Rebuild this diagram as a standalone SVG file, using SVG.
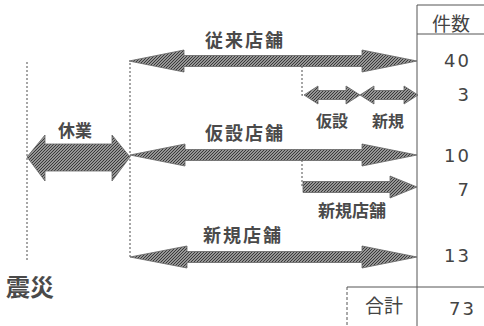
<svg xmlns="http://www.w3.org/2000/svg" width="484" height="326" viewBox="0 0 484 326">
<defs>
<pattern id="hatch" patternUnits="userSpaceOnUse" width="3" height="3">
<rect width="3" height="3" fill="#bdbdbd"/>
<path d="M-1,1 L1,-1 M0,3 L3,0 M2,4 L4,2" stroke="#333" stroke-width="1.1"/>
</pattern>
</defs>
<style>
.arr{fill:url(#hatch);stroke:#666;stroke-width:0.8;stroke-linejoin:miter}
.dot{fill:none;stroke:#777;stroke-width:1.3;stroke-dasharray:2 2}
.ln{fill:none;stroke:#555;stroke-width:1}
.lbl{font-family:"Noto Sans CJK JP","Noto Sans",sans-serif;font-weight:bold;fill:#4a4a4a;text-anchor:middle}
.num{font-family:"DejaVu Sans","Liberation Sans",sans-serif;fill:#444;font-size:18px;letter-spacing:2px;text-anchor:end}
.hd{font-family:"Noto Sans CJK JP","Noto Sans",sans-serif;fill:#444;font-size:19px;text-anchor:middle}
</style>
<g id="connectors">
<path class="dot" d="M27,62 V260"/>
<path class="dot" d="M130,63 V257"/>
<path class="dot" d="M302,66 V95 H306"/>
<path class="dot" d="M302,160 V187"/>
</g>
<g id="table">
<path class="ln" d="M417,5 H484 M417,34 H484 M417,5 V326 M347,287 H484"/>
<path class="ln" d="M347,287 V326" stroke-dasharray="3 2"/>
<text class="hd" x="451" y="31">件数</text>
<text class="num" x="471" y="67">40</text>
<text class="num" x="471" y="101">3</text>
<text class="num" x="471" y="162">10</text>
<text class="num" x="471" y="196">7</text>
<text class="num" x="471" y="262">13</text>
<text class="hd" x="384" y="313">合計</text>
<text class="num" x="476" y="315">73</text>
</g>
<g id="juurai">
<path class="arr" d="M129,61 L184,50 L184,55.5 L362,55.5 L362,50 L417,61 L362,72 L362,66.5 L184,66.5 L184,72 Z"/>
<text class="lbl" x="245" y="47" font-size="18" letter-spacing="2">従来店舗</text>
</g>
<g id="kyugyo">
<path class="arr" d="M27,157 L45,135 L45,144 L112,144 L112,135 L130,157 L112,181 L112,171 L45,171 L45,181 Z"/>
<text class="lbl" x="75" y="137" font-size="17">休業</text>
</g>
<g id="kasetsu">
<path class="arr" d="M130,155 L185,144 L185,149.5 L362,149.5 L362,144 L417,155 L362,166 L362,160.5 L185,160.5 L185,166 Z"/>
<text class="lbl" x="245" y="140" font-size="18" letter-spacing="2">仮設店舗</text>
</g>
<g id="small-kasetsu">
<path class="arr" d="M304,95 L318,86 L318,90.5 L346,90.5 L346,86 L360,95 L346,104 L346,99.5 L318,99.5 L318,104 Z"/>
<text class="lbl" x="332" y="127" font-size="16">仮設</text>
</g>
<g id="small-shinki">
<path class="arr" d="M360,95 L374,86 L374,90.5 L404,90.5 L404,86 L418,95 L404,104 L404,99.5 L374,99.5 L374,104 Z"/>
<text class="lbl" x="388" y="127" font-size="16">新規</text>
</g>
<g id="shinki-from-kasetsu">
<path class="arr" d="M303,181.5 L390,181.5 L390,176 L417,187 L390,198 L390,192.5 L303,192.5 Z"/>
<text class="lbl" x="352" y="217" font-size="17">新規店舗</text>
</g>
<g id="shinki">
<path class="arr" d="M130,257 L187,246 L187,251.5 L362,251.5 L362,246 L417,257 L362,268 L362,262.5 L187,262.5 L187,268 Z"/>
<text class="lbl" x="243" y="242" font-size="18" letter-spacing="2">新規店舗</text>
</g>
<g id="shinsai">
<text class="lbl" x="30" y="296" font-size="24">震災</text>
</g>
</svg>
